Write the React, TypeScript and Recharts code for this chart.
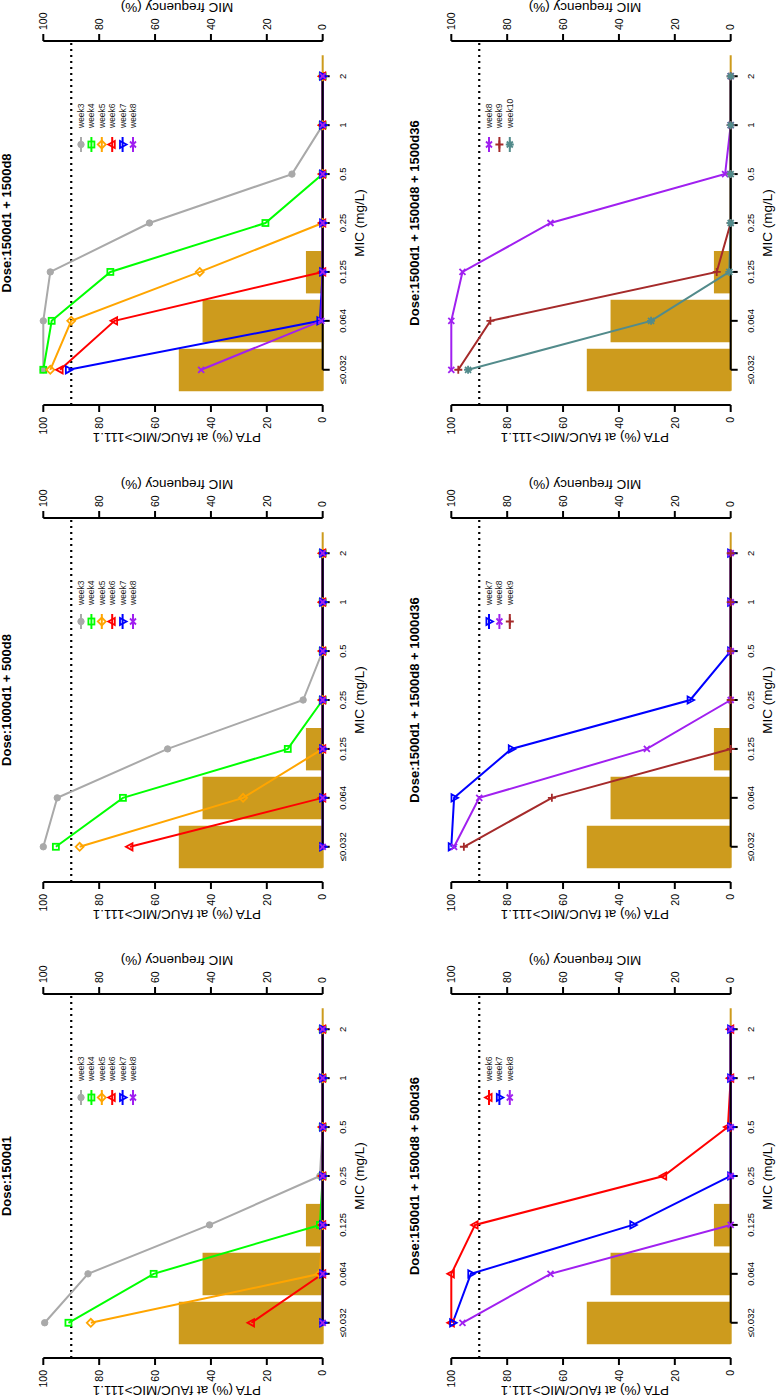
import React from 'react';
import { ComposedChart, Bar, Line, XAxis, YAxis, ReferenceLine, Legend } from 'recharts';

// MIC categories (x axis) and the MIC frequency distribution (bars, right axis)
const micLabels = ['≤0.032', '0.064', '0.125', '0.25', '0.5', '1', '2'];
const micFrequency = [51.5, 43, 6, 0, 0, 0, 0];
const pctTicks = [0, 20, 40, 60, 80, 100];
const micTicks = [0, 1, 2, 3, 4, 5, 6];

// PTA (%) per week, one array per line
// Dose:1500d1
const a_week3 = [99.5, 84, 40.5, 1, 0, 0, 0];
const a_week4 = [91, 60.5, 1, 0, 0, 0, 0];
const a_week5 = [83, 1, 0, 0, 0, 0, 0];
const a_week6 = [25.5, 0, 0, 0, 0, 0, 0];
const a_week7 = [0, 0, 0, 0, 0, 0, 0];
const a_week8 = [0, 0, 0, 0, 0, 0, 0];

// Dose:1000d1 + 500d8
const b_week3 = [100, 95, 55.5, 7, 0, 0, 0];
const b_week4 = [95.5, 71.5, 12.5, 0, 0, 0, 0];
const b_week5 = [87, 28.5, 0, 0, 0, 0, 0];
const b_week6 = [69, 0, 0, 0, 0, 0, 0];
const b_week7 = [0, 0, 0, 0, 0, 0, 0];
const b_week8 = [0, 0, 0, 0, 0, 0, 0];

// Dose:1500d1 + 1500d8
const c_week3 = [100, 100, 97.5, 62, 11, 0, 0];
const c_week4 = [100, 97, 76, 20.5, 0, 0, 0];
const c_week5 = [97.5, 90, 44, 0, 0, 0, 0];
const c_week6 = [94, 74.5, 0, 0, 0, 0, 0];
const c_week7 = [91, 1, 0, 0, 0, 0, 0];
const c_week8 = [43.5, 0.5, 0, 0, 0, 0, 0];

// Dose:1500d1 + 1500d8 + 500d36
const d_week6 = [100, 100, 91.5, 24, 1, 0, 0];
const d_week7 = [99.5, 93, 35, 0, 0, 0, 0];
const d_week8 = [96, 64.5, 0, 0, 0, 0, 0];

// Dose:1500d1 + 1500d8 + 1000d36
const e_week7 = [100, 99, 78.5, 14.5, 0, 0, 0];
const e_week8 = [99, 90, 30, 0, 0, 0, 0];
const e_week9 = [95.5, 64, 0, 0, 0, 0, 0];

// Dose:1500d1 + 1500d8 + 1500d36
const f_week8 = [100, 100, 96, 64.5, 2, 0, 0];
const f_week9 = [97.5, 86, 5, 0, 0, 0, 0];
const f_week10 = [94, 28.5, 0.5, 0, 0, 0, 0];

type Series = [string, number[]];

const panels: { title: string; left: number; top: number; series: Series[] }[] = [
  { title: 'Dose:1500d1', left: 0, top: 0, series: [['week3', a_week3], ['week4', a_week4], ['week5', a_week5], ['week6', a_week6], ['week7', a_week7], ['week8', a_week8]] },
  { title: 'Dose:1000d1 + 500d8', left: 476, top: 0, series: [['week3', b_week3], ['week4', b_week4], ['week5', b_week5], ['week6', b_week6], ['week7', b_week7], ['week8', b_week8]] },
  { title: 'Dose:1500d1 + 1500d8', left: 953, top: 0, series: [['week3', c_week3], ['week4', c_week4], ['week5', c_week5], ['week6', c_week6], ['week7', c_week7], ['week8', c_week8]] },
  { title: 'Dose:1500d1 + 1500d8 + 500d36', left: 0, top: 408, series: [['week6', d_week6], ['week7', d_week7], ['week8', d_week8]] },
  { title: 'Dose:1500d1 + 1500d8 + 1000d36', left: 476, top: 408, series: [['week7', e_week7], ['week8', e_week8], ['week9', e_week9]] },
  { title: 'Dose:1500d1 + 1500d8 + 1500d36', left: 953, top: 408, series: [['week8', f_week8], ['week9', f_week9], ['week10', f_week10]] },
];

const weekStyle: Record<string, { color: string; shape: string }> = {
  week3: { color: '#A9A9A9', shape: 'circle' },
  week4: { color: '#00FF00', shape: 'square' },
  week5: { color: '#FFA500', shape: 'diamond' },
  week6: { color: '#FF0000', shape: 'triUp' },
  week7: { color: '#0000FF', shape: 'triDown' },
  week8: { color: '#A020F0', shape: 'cross' },
  week9: { color: '#A52A2A', shape: 'plus' },
  week10: { color: '#528B8B', shape: 'star' },
};

const FONT = '"Liberation Sans", Arial, Helvetica, sans-serif';
const GOLD = '#CD9B1D';
const W = 460;
const TOP = 43.3;
const PLOT_H = 279.4;
const X_H = 46;
const H = TOP + PLOT_H + X_H;
const LEFT_W = 42;
const RIGHT_W = 54;
const PLOT_W = W - LEFT_W - RIGHT_W;

function Marker({ cx, cy, shape, color }: { cx: number; cy: number; shape: string; color: string }) {
  const s = 3;
  const sw = 1.8;
  if (cx == null || cy == null) return null;
  switch (shape) {
    case 'circle':
      return <circle cx={cx} cy={cy} r={3.2} fill={color} stroke={color} strokeWidth={1} />;
    case 'square':
      return <rect x={cx - s} y={cy - s} width={2 * s} height={2 * s} fill="none" stroke={color} strokeWidth={sw} />;
    case 'diamond':
      return <path d={`M${cx},${cy - 4} L${cx + 4},${cy} L${cx},${cy + 4} L${cx - 4},${cy} Z`} fill="none" stroke={color} strokeWidth={sw} />;
    case 'triUp':
      return <path d={`M${cx},${cy - 4} L${cx + 3.6},${cy + 2.6} L${cx - 3.6},${cy + 2.6} Z`} fill="none" stroke={color} strokeWidth={sw} />;
    case 'triDown':
      return <path d={`M${cx},${cy + 4} L${cx + 3.6},${cy - 2.6} L${cx - 3.6},${cy - 2.6} Z`} fill="none" stroke={color} strokeWidth={sw} />;
    case 'cross':
      return <path d={`M${cx - s},${cy - s} L${cx + s},${cy + s} M${cx - s},${cy + s} L${cx + s},${cy - s}`} stroke={color} strokeWidth={sw} />;
    case 'plus':
      return <path d={`M${cx - 4},${cy} L${cx + 4},${cy} M${cx},${cy - 4} L${cx},${cy + 4}`} stroke={color} strokeWidth={sw} />;
    default:
      return (
        <path
          d={`M${cx - 4},${cy} L${cx + 4},${cy} M${cx},${cy - 4} L${cx},${cy + 4} M${cx - s},${cy - s} L${cx + s},${cy + s} M${cx - s},${cy + s} L${cx + s},${cy - s}`}
          stroke={color}
          strokeWidth={sw}
        />
      );
  }
}

function WeekLegend({ series }: { series: Series[] }) {
  return (
    <svg width={W} height={H} style={{ display: 'block' }}>
      {series.map(([name], i) => {
        const st = weekStyle[name];
        const y = TOP + 37.7 + i * 10.4;
        return (
          <g key={name}>
            <line x1={295} x2={310} y1={y} y2={y} stroke={st.color} strokeWidth={2} />
            <Marker cx={302.5} cy={y} shape={st.shape} color={st.color} />
            <text x={319} y={y} dy="0.35em" fontSize={8.5} fill="#222">
              {name}
            </text>
          </g>
        );
      })}
    </svg>
  );
}

function Panel({ title, left, top, series }: { title: string; left: number; top: number; series: Series[] }) {
  const rows = micLabels.map((_, i) => {
    const r: Record<string, number> = { idx: i, freq: micFrequency[i] };
    series.forEach(([name, vals]) => {
      r[name] = vals[i];
    });
    return r;
  });

  return (
    <div style={{ position: 'absolute', left, top, width: W, height: H }}>
      <ComposedChart width={W} height={H} data={rows} margin={{ top: TOP, right: 0, bottom: 0, left: 0 }}>
        <XAxis
          type="number"
          dataKey="idx"
          domain={[-0.72, 6.72]}
          allowDataOverflow
          ticks={micTicks}
          tickFormatter={(v: number) => micLabels[v]}
          height={X_H}
          axisLine={false}
          tickLine={{ stroke: '#000', strokeWidth: 2 }}
          tickSize={7}
          tickMargin={10}
          tick={{ fontSize: 9.5, fill: '#000' }}
          label={(p: any) => (
            <text x={p.viewBox.x + p.viewBox.width / 2} y={p.viewBox.y + 41.3} textAnchor="middle" fontSize={13.5} fill="#000">
              MIC (mg/L)
            </text>
          )}
        />
        <YAxis
          yAxisId="pta"
          domain={[0, 100]}
          ticks={pctTicks}
          width={LEFT_W}
          axisLine={{ stroke: '#000', strokeWidth: 2 }}
          tickLine={{ stroke: '#000', strokeWidth: 2 }}
          tickSize={7}
          tickMargin={5}
          tick={{ fontSize: 10.5, fill: '#000' }}
          label={(p: any) => {
            const x = p.viewBox.x + p.viewBox.width - 28;
            const y = p.viewBox.y + 133.7;
            return (
              <text x={x} y={y} transform={`rotate(-90, ${x}, ${y})`} textAnchor="middle" fontSize={13.5} fill="#000">
                PTA (%) at fAUC/MIC&gt;111.1
              </text>
            );
          }}
        />
        <YAxis
          yAxisId="freq"
          orientation="right"
          domain={[0, 100]}
          ticks={pctTicks}
          width={RIGHT_W}
          axisLine={{ stroke: '#000', strokeWidth: 2 }}
          tickLine={{ stroke: '#000', strokeWidth: 2 }}
          tickSize={7}
          tickMargin={4}
          tick={{ fontSize: 10.5, fill: '#000' }}
          label={(p: any) => {
            const x = p.viewBox.x + 38;
            const y = p.viewBox.y + 133.7;
            return (
              <text x={x} y={y} transform={`rotate(-90, ${x}, ${y})`} textAnchor="middle" fontSize={13.5} fill="#000">
                MIC frequency (%)
              </text>
            );
          }}
        />
        <Bar yAxisId="freq" dataKey="freq" fill={GOLD} barSize={42.5} legendType="none" isAnimationActive={false} />
        <ReferenceLine yAxisId="pta" y={90} stroke="#000" strokeWidth={2.2} strokeDasharray="2 4" />
        <ReferenceLine
          yAxisId="freq"
          segment={[{ x: -0.43, y: 0 }, { x: 6.43, y: 0 }]}
          stroke={GOLD}
          strokeWidth={2}
        />
        {series.map(([name]) => {
          const st = weekStyle[name];
          return (
            <Line
              key={name}
              yAxisId="pta"
              dataKey={name}
              type="linear"
              stroke={st.color}
              strokeWidth={2}
              dot={(p: any) => <Marker key={`${name}-${p.index}`} cx={p.cx} cy={p.cy} shape={st.shape} color={st.color} />}
              activeDot={false}
              isAnimationActive={false}
            />
          );
        })}
        {/* x axis line only between the first and last tick, kept above the zero-valued lines */}
        <ReferenceLine
          yAxisId="pta"
          segment={[{ x: 0, y: 0 }, { x: 6, y: 0 }]}
          stroke="#000"
          strokeWidth={2}
          zIndex={450}
        />
        <Legend
          layout="vertical"
          align="center"
          verticalAlign="middle"
          wrapperStyle={{ left: 0, top: 0, width: W, height: H, pointerEvents: 'none' }}
          content={() => <WeekLegend series={series} />}
        />
      </ComposedChart>
      <svg width={W} height={20} style={{ position: 'absolute', left: 0, top: 0 }}>
        <text x={LEFT_W + PLOT_W / 2} y={10.5} textAnchor="middle" fontSize={13} fontWeight="bold" fill="#000">
          {title}
        </text>
      </svg>
    </div>
  );
}

export default function App() {
  return (
    <div
      style={{
        position: 'absolute',
        left: 0,
        top: 0,
        width: 776,
        height: 1400,
        overflow: 'hidden',
        background: '#fff',
        fontFamily: FONT,
      }}
    >
      {/* figure is laid out landscape and turned a quarter turn counter-clockwise */}
      <div
        style={{
          position: 'absolute',
          left: 0,
          top: 0,
          width: 1400,
          height: 776,
          transformOrigin: '0 0',
          transform: 'translate(0px, 1400px) rotate(-90deg)',
        }}
      >
        {panels.map((p) => (
          <Panel key={p.title} {...p} />
        ))}
      </div>
    </div>
  );
}
